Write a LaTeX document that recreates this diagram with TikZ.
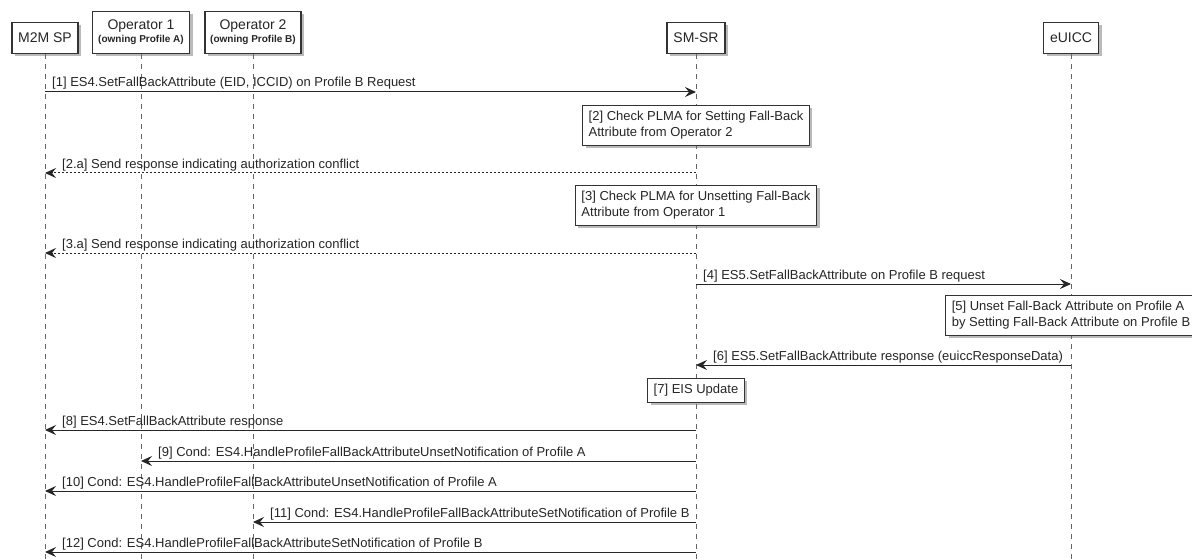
\documentclass[tikz,border=0pt]{standalone}
\usepackage{fontspec}
\setmainfont{Liberation Sans}
\usetikzlibrary{arrows.meta,shadows}
\begin{document}
\begin{tikzpicture}[x=1pt,y=-1pt,
  shad/.style={drop shadow={shadow xshift=3pt,shadow yshift=-3pt,opacity=0.45,fill=black!60}},
  part/.style={draw=black!80, line width=1.3pt, fill=white, inner sep=0pt, align=center,
    anchor=south, font=\fontsize{14}{16}\selectfont, text=black!85, shad},
  lifeline/.style={draw=black!60, line width=0.8pt, dash pattern=on 5pt off 5pt},
  msg/.style={draw=black!85, line width=1pt, -{Stealth[length=11pt,width=10pt,inset=4pt]}},
  reply/.style={msg, dash pattern=on 2pt off 2pt},
  lbl/.style={anchor=base west, inner sep=0pt, font=\fontsize{13}{15}\selectfont, text=black!85},
  notebox/.style={draw=black!80, line width=0.9pt, fill=white, align=left, inner xsep=6pt,
    inner ysep=0pt, anchor=north, font=\fontsize{13}{16}\selectfont, text=black!85, shad}
]
\useasboundingbox (0,0) rectangle (1192,559);
\fill[white] (0,0) rectangle (1192,559);

% participants
\node[part, minimum width=66pt, minimum height=31pt] (m2m) at (45,54) {M2M SP};
\node[part, minimum width=97pt, minimum height=42pt] (op1) at (141,54)
  {Operator 1\\[-3pt]{\fontsize{10}{12}\selectfont\bfseries (owning Profile A)}};
\node[part, minimum width=96pt, minimum height=42pt] (op2) at (253,54)
  {Operator 2\\[-3pt]{\fontsize{10}{12}\selectfont\bfseries (owning Profile B)}};
\node[part, minimum width=58pt, minimum height=31pt] (smsr) at (696,54) {SM-SR};
\node[part, minimum width=55pt, minimum height=31pt] (euicc) at (1071,54) {eUICC};

% lifelines
\coordinate (m2mEnd) at (45,559);
\coordinate (op1End) at (141,559);
\coordinate (op2End) at (253,559);
\coordinate (smsrEnd) at (696,559);
\coordinate (euiccEnd) at (1071,559);
\draw[lifeline] (m2m.south) -- (m2mEnd);
\draw[lifeline] (op1.south) -- (op1End);
\draw[lifeline] (op2.south) -- (op2End);
\draw[lifeline] (smsr.south) -- (smsrEnd);
\draw[lifeline] (euicc.south) -- (euiccEnd);

% messages
\draw[msg] (m2m |- 0,92) -- (smsr |- 0,92);
\node[lbl] (t1) at (52,87) {[1] ES4.SetFallBackAttribute (EID, ICCID) on Profile B Request};

\draw[reply] (smsr |- 0,173) -- (m2m |- 0,173);
\node[lbl] (t2a) at (62,168) {[2.a] Send response indicating authorization conflict};

\draw[reply] (smsr |- 0,253) -- (m2m |- 0,253);
\node[lbl] (t3a) at (62,248) {[3.a] Send response indicating authorization conflict};

\draw[msg] (smsr |- 0,284) -- (euicc |- 0,284);
\node[lbl] (t4) at (703,279) {[4] ES5.SetFallBackAttribute on Profile B request};

\draw[msg] (euicc |- 0,365) -- (smsr |- 0,365);
\node[lbl] (t6) at (713,360) {[6] ES5.SetFallBackAttribute response (euiccResponseData)};

\draw[msg] (smsr |- 0,430) -- (m2m |- 0,430);
\node[lbl] (t8) at (62,425) {[8] ES4.SetFallBackAttribute response};

\draw[msg] (smsr |- 0,461) -- (op1 |- 0,461);
\node[lbl] (t9) at (158,456) {[9] Cond: ES4.HandleProfileFallBackAttributeUnsetNotification of Profile A};

\draw[msg] (smsr |- 0,491) -- (m2m |- 0,491);
\node[lbl] (t10) at (62,486) {[10] Cond: ES4.HandleProfileFallBackAttributeUnsetNotification of Profile A};

\draw[msg] (smsr |- 0,522) -- (op2 |- 0,522);
\node[lbl] (t11) at (270,517) {[11] Cond: ES4.HandleProfileFallBackAttributeSetNotification of Profile B};

\draw[msg] (smsr |- 0,552) -- (m2m |- 0,552);
\node[lbl] (t12) at (62,547) {[12] Cond: ES4.HandleProfileFallBackAttributeSetNotification of Profile B};

% notes
\node[notebox, minimum height=40pt] (n2) at (696,105)
  {[2] Check PLMA for Setting Fall-Back\\Attribute from Operator 2};
\node[notebox, minimum height=40pt] (n3) at (696,185)
  {[3] Check PLMA for Unsetting Fall-Back\\Attribute from Operator 1};
\node[notebox, minimum height=40pt] (n5) at (1071,295)
  {[5] Unset Fall-Back Attribute on Profile A\\by Setting Fall-Back Attribute on Profile B};
\node[notebox, minimum height=24pt] (n7) at (696,378) {[7] EIS Update};
\end{tikzpicture}
\end{document}
